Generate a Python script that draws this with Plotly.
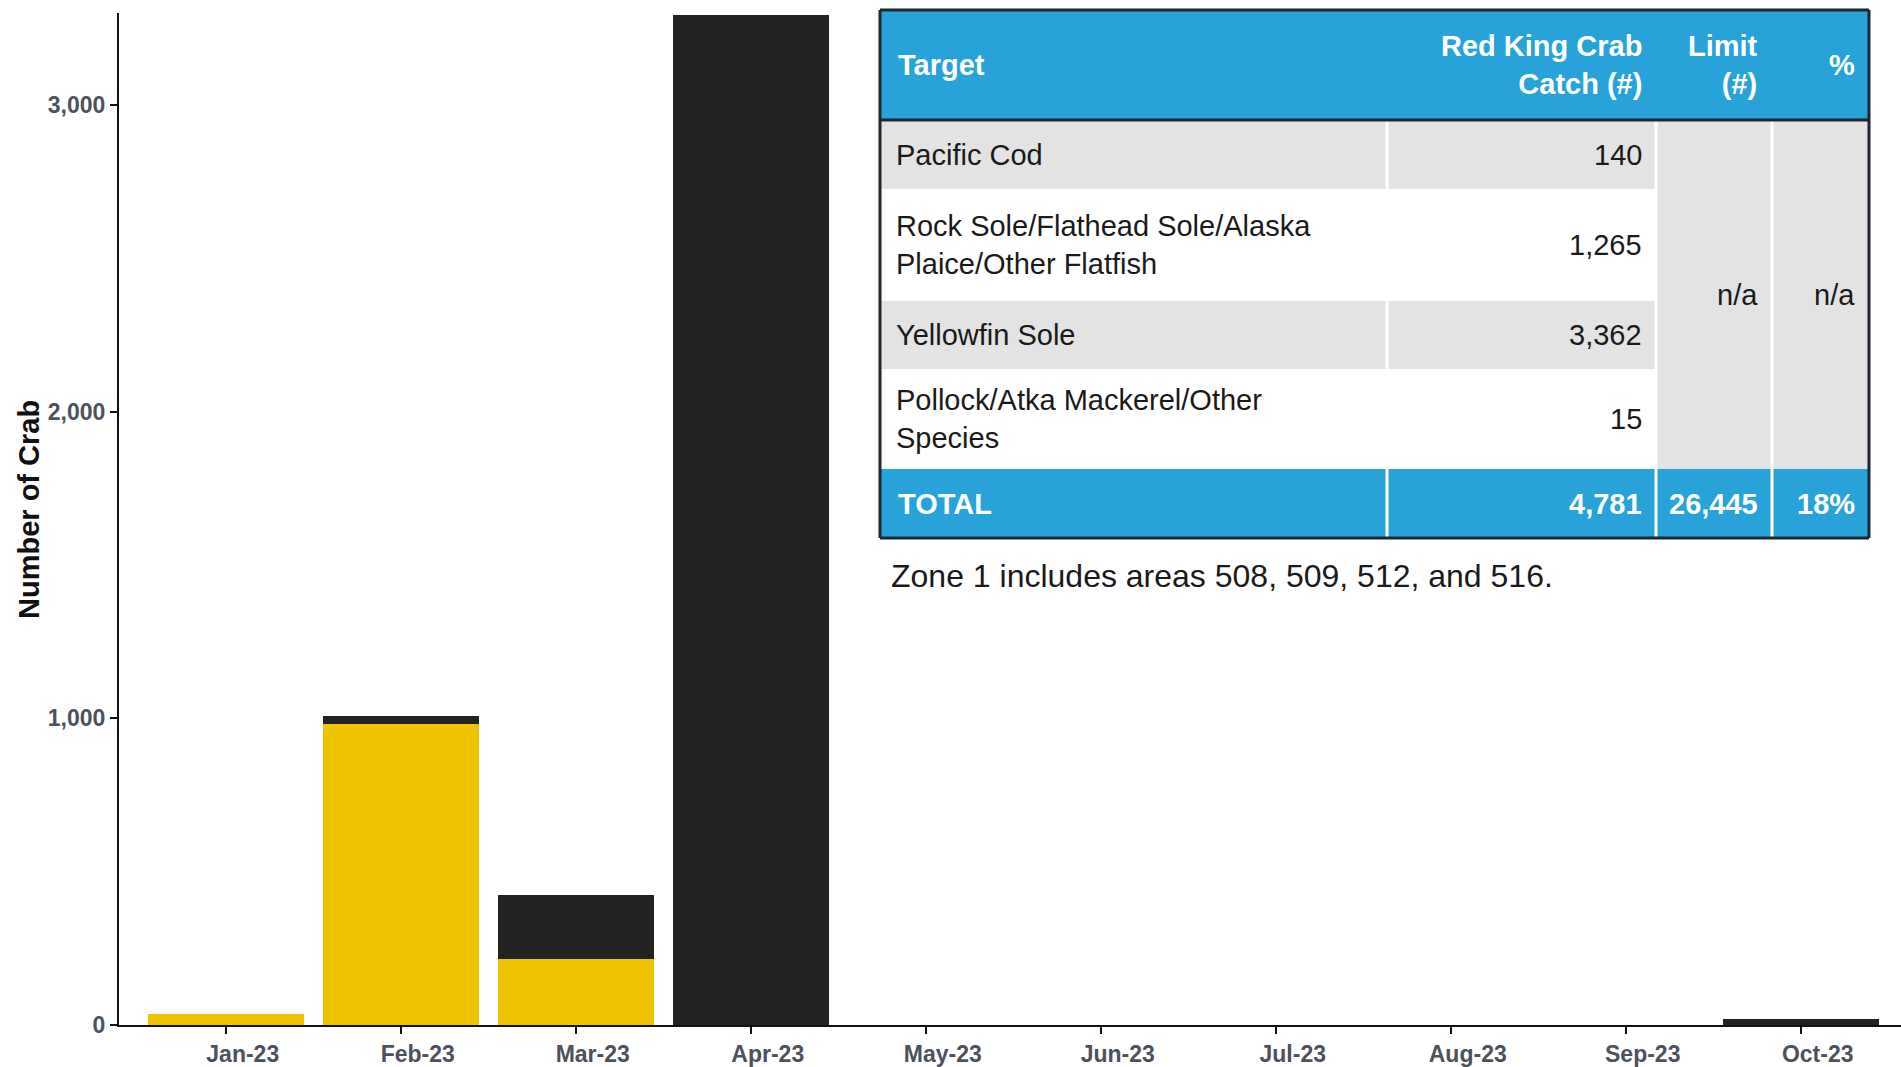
import plotly.graph_objects as go

# Monthly red king crab bycatch by target group
months = ["Jan-23", "Feb-23", "Mar-23", "Apr-23", "May-23",
          "Jun-23", "Jul-23", "Aug-23", "Sep-23", "Oct-23"]
flatfish_crab = [37, 982, 214, 0, 0, 0, 0, 0, 0, 0]
other_crab = [0, 27, 209, 3294, 0, 0, 0, 0, 0, 18]

y_ticks = [0, 1000, 2000, 3000]

# Summary table
table_header = ["Target", "Red King Crab<br>Catch (#)", "Limit<br>(#)", "%"]
table_targets = ["Pacific Cod",
                 "Rock Sole/Flathead Sole/Alaska<br>Plaice/Other Flatfish",
                 "Yellowfin Sole",
                 "Pollock/Atka Mackerel/Other<br>Species"]
table_catch = [140, 1265, 3362, 15]
total_catch = 4781
crab_limit = 26445
total_pct = "18%"
table_note = "Zone 1 includes areas 508, 509, 512, and 516."

FONT = "Liberation Sans, Arial, sans-serif"
YELLOW = "#f0c300"
BLACK = "#222222"
BLUE = "#27a3d9"
GREY = "#e3e3e3"
BORDER = "#1d2731"
TICK_COLOR = "#4c525b"

# Figure geometry (pixels)
FIG_W, FIG_H = 1901, 1067
M_L, M_R, M_T, M_B = 119, 0, 13, 42
PLOT_W = FIG_W - M_L - M_R
PLOT_H = FIG_H - M_T - M_B


def px(x):
    return (x - M_L) / PLOT_W


def py(y):
    return (M_T + PLOT_H - y) / PLOT_H


fig = go.Figure()
fig.add_trace(go.Bar(x=months, y=flatfish_crab, name="Flatfish targets",
                     marker=dict(color=YELLOW, line=dict(width=0)), width=0.89))
fig.add_trace(go.Bar(x=months, y=other_crab, name="Other targets",
                     marker=dict(color=BLACK, line=dict(width=0)), width=0.89))

shapes = []
annotations = []

# Table layout in pixels
col_x = [880, 1387, 1656, 1772, 1869]
row_y = [10, 120, 189, 301, 369, 469, 538]


def rect(x0, y0, x1, y1, color):
    shapes.append(dict(type="rect", xref="paper", yref="paper",
                       x0=px(x0), x1=px(x1), y0=py(y1), y1=py(y0),
                       fillcolor=color, line=dict(width=0), layer="above"))


def line(x0, y0, x1, y1, color, width):
    shapes.append(dict(type="line", xref="paper", yref="paper",
                       x0=px(x0), x1=px(x1), y0=py(y0), y1=py(y1),
                       line=dict(color=color, width=width), layer="above"))


def text(s, x, y, anchor, color="#1a1a1a", bold=False, size=29):
    if bold:
        s = "<b>" + s.replace("<br>", "</b><br><b>") + "</b>"
    annotations.append(dict(text=s, xref="paper", yref="paper",
                            x=px(x), y=py(y), xanchor=anchor, yanchor="middle",
                            align=anchor, showarrow=False,
                            font=dict(family=FONT, size=size, color=color)))


# Header and total rows
rect(col_x[0], row_y[0], col_x[4], row_y[1], BLUE)
rect(col_x[0], row_y[5], col_x[4], row_y[6], BLUE)
# Body: alternating rows in the first two columns
for i in range(4):
    if i % 2 == 0:
        rect(col_x[0], row_y[i + 1], col_x[2], row_y[i + 2], GREY)
# Merged limit and percent cells
rect(col_x[2], row_y[1], col_x[4], row_y[5], GREY)
# White column separators
line(col_x[1], row_y[1], col_x[1], row_y[6], "white", 3)
line(col_x[2], row_y[1], col_x[2], row_y[6], "white", 3)
line(col_x[3], row_y[1], col_x[3], row_y[6], "white", 3)
# Dark borders
line(col_x[0], row_y[0], col_x[4], row_y[0], BORDER, 3)
line(col_x[0], row_y[1], col_x[4], row_y[1], BORDER, 3)
line(col_x[0], row_y[6], col_x[4], row_y[6], BORDER, 3)
line(col_x[0], row_y[0], col_x[0], row_y[6], BORDER, 3)
line(col_x[4], row_y[0], col_x[4], row_y[6], BORDER, 3)

pad = 12
header_mid = (row_y[0] + row_y[1]) / 2
text(table_header[0], col_x[0] + pad + 4, header_mid, "left", "white", True)
text(table_header[1], col_x[2] - pad, header_mid, "right", "white", True)
text(table_header[2], col_x[3] - pad, header_mid, "right", "white", True)
text(table_header[3], col_x[4] - pad, header_mid, "right", "white", True)

for i, (name, val) in enumerate(zip(table_targets, table_catch)):
    mid = (row_y[i + 1] + row_y[i + 2]) / 2
    text(name, col_x[0] + pad + 2, mid, "left")
    text(f"{val:,}", col_x[2] - pad, mid, "right")

merged_mid = (row_y[1] + row_y[5]) / 2
text("n/a", col_x[3] - pad, merged_mid, "right")
text("n/a", col_x[4] - pad, merged_mid, "right")

total_mid = (row_y[5] + row_y[6]) / 2
text("TOTAL", col_x[0] + pad + 4, total_mid, "left", "white", True)
text(f"{total_catch:,}", col_x[2] - pad, total_mid, "right", "white", True)
text(f"{crab_limit:,}", col_x[3] - pad, total_mid, "right", "white", True)
text(total_pct, col_x[4] - pad, total_mid, "right", "white", True)

text(table_note, 889, 576, "left", size=32)

# Y axis title
annotations.append(dict(text="<b>Number of Crab</b>", xref="paper", yref="paper",
                        x=px(29), y=py(510), xanchor="center", yanchor="middle",
                        textangle=-90, showarrow=False,
                        font=dict(family=FONT, size=29, color="#111111")))

tick_font = dict(family=FONT, size=23, color=TICK_COLOR, weight="bold")

fig.update_layout(
    width=FIG_W, height=FIG_H,
    margin=dict(l=M_L, r=M_R, t=M_T, b=M_B, pad=0),
    paper_bgcolor="white", plot_bgcolor="white",
    barmode="stack", showlegend=False,
    font=dict(family=FONT),
    shapes=shapes, annotations=annotations,
    xaxis=dict(type="category", range=[-0.61, 9.573], showgrid=False,
               showline=True, linecolor="#111111", linewidth=2,
               ticks="outside", ticklen=7, tickcolor="#111111", tickwidth=2,
               tickfont=tick_font, ticklabelshift=17, fixedrange=True),
    yaxis=dict(range=[0, 3300], tickvals=y_ticks, tickformat=",d",
               showgrid=False, zeroline=False,
               showline=True, linecolor="#111111", linewidth=2,
               ticks="outside", ticklen=7, tickcolor="#111111", tickwidth=2,
               tickfont=tick_font, fixedrange=True),
)

fig.write_html("out.html")
